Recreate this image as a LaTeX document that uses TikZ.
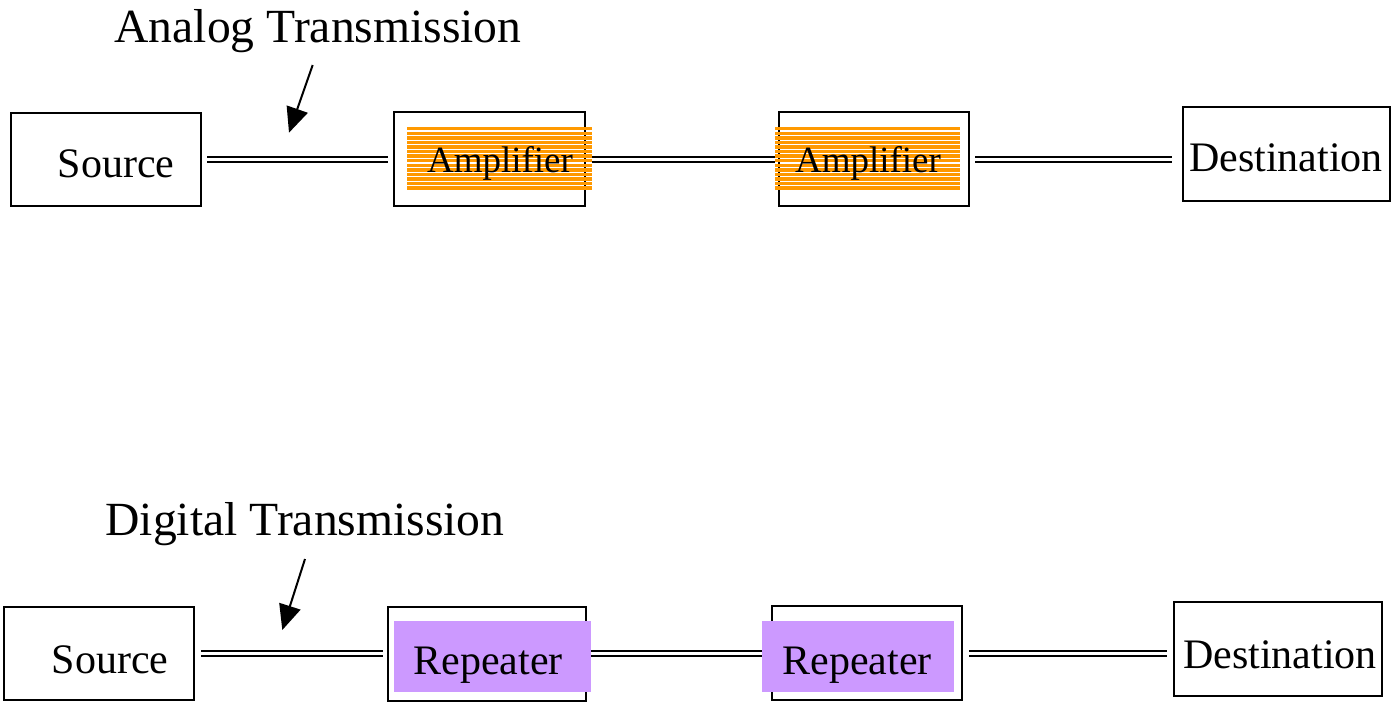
\documentclass[tikz,border=0pt]{standalone}
\usepackage{fontspec}
\setmainfont{Liberation Serif}
\usetikzlibrary{arrows.meta,calc}
\definecolor{amber}{HTML}{FF9900}
\definecolor{lilac}{HTML}{CC99FF}
\tikzset{
  box/.style={draw=black, line width=2pt, inner sep=0pt, fill=white},
  stripefill/.style={inner sep=0pt, path picture={
      \foreach \k in {0,...,13}{
        \fill[amber] ([yshift=-\k*4.57pt]path picture bounding box.north west)
          rectangle ([yshift=-\k*4.57pt-3.4pt]path picture bounding box.north east);}}},
  flatfill/.style={inner sep=0pt, fill=lilac},
  dbl/.style={line width=1.7pt, double=white, double distance=2.7pt, draw=black},
  arr/.style={line width=2pt, -{Triangle[length=25pt,width=22pt]}},
  title/.style={font=\fontsize{47.6}{50}\selectfont, anchor=base, inner sep=0pt},
  lbl/.style={font=\fontsize{42}{44}\selectfont, anchor=base, inner sep=0pt},
  slbl/.style={font=\fontsize{37}{40}\selectfont, anchor=base, inner sep=0pt},
}
\begin{document}
\begin{tikzpicture}[x=1pt,y=-1pt]
\useasboundingbox[fill=white] (0,0) rectangle (1395,703);

% ---------- Analog ----------
\node[title] (t1) at (318,43) {Analog Transmission};
\node[box, minimum width=190pt, minimum height=93pt] (s1) at (106,159.5) {};
\node[box, minimum width=191pt, minimum height=94pt] (a1) at (489.5,159) {};
\node[box, minimum width=190pt, minimum height=94pt] (a2) at (874,159) {};
\node[box, minimum width=207pt, minimum height=94pt] (d1) at (1286.5,154) {};
\node[stripefill, minimum width=185pt, minimum height=64pt] (a1f) at (499.5,159) {};
\node[stripefill, minimum width=185pt, minimum height=64pt] (a2f) at (867.5,159) {};
\node[lbl] (s1t) at (116,178) {Source};
\node[slbl] (a1t) at (500,173) {Amplifier};
\node[slbl] (a2t) at (868,173) {Amplifier};
\node[lbl] (d1t) at (1286,172) {Destination};

\draw[dbl] ([xshift=5pt]s1.east) -- ([xshift=-5pt]s1.east -| a1.west);
\draw[dbl] (a1f.east |- s1.east) -- (s1.east -| a2f.west);
\draw[dbl] ([xshift=5pt]a2.east |- s1.east) -- ([xshift=-10pt]s1.east -| d1.west);

\coordinate (p1) at (312.7,65);
\coordinate (q1) at (289,132.7);
\draw[arr] (p1) -- (q1);

% ---------- Digital ----------
\node[title] (t2) at (305,535) {Digital Transmission};
\node[box, minimum width=190pt, minimum height=93pt] (s2) at (99,653.5) {};
\node[box, minimum width=198pt, minimum height=94pt] (r1) at (487,654) {};
\node[box, minimum width=190pt, minimum height=94pt] (r2) at (867,653) {};
\node[box, minimum width=208pt, minimum height=94pt] (d2) at (1278,649) {};
\node[flatfill, minimum width=197pt, minimum height=71pt] (r1f) at (492.5,656.5) {};
\node[flatfill, minimum width=192pt, minimum height=71pt] (r2f) at (858,656.5) {};
\node[lbl] (s2t) at (110,673) {Source};
\node[lbl] (r1t) at (488,674) {Repeater};
\node[lbl] (r2t) at (857,674) {Repeater};
\node[lbl] (d2t) at (1280,668) {Destination};

\draw[dbl] ([xshift=6pt]s2.east) -- ([xshift=-4pt]s2.east -| r1.west);
\draw[dbl] (r1f.east |- s2.east) -- (s2.east -| r2f.west);
\draw[dbl] ([xshift=6pt]r2.east |- s2.east) -- ([xshift=-6pt]s2.east -| d2.west);

\coordinate (p2) at (305,559);
\coordinate (q2) at (282.3,630);
\draw[arr] (p2) -- (q2);
\end{tikzpicture}
\end{document}
